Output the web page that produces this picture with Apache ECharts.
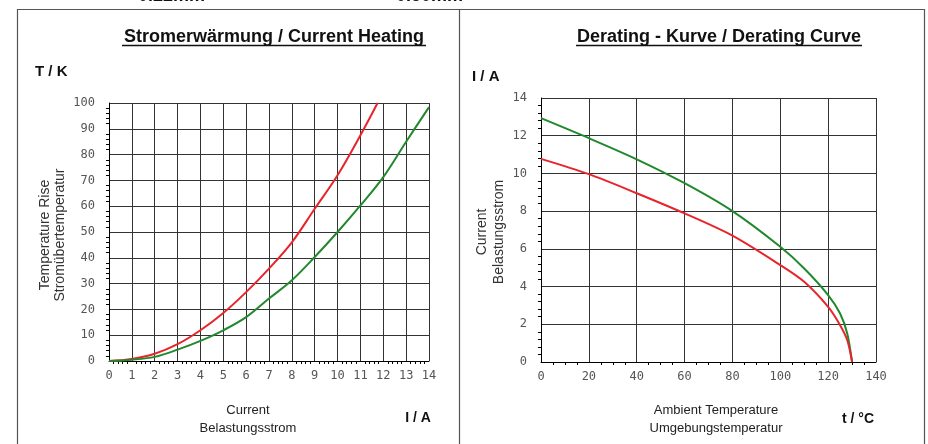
<!DOCTYPE html>
<html>
<head>
<meta charset="utf-8">
<script src="https://cdn.jsdelivr.net/npm/echarts@6/dist/echarts.min.js"></script>
<style>
html,body{margin:0;padding:0;background:#fff;}
#chart{width:928px;height:444px;}
</style>
</head>
<body>
<div id="chart"></div>
<script>
// ---- Data ----
// Left chart: Current Heating (temperature rise vs. current)
var heatCurrentRed = [0, 1, 2, 3, 4, 5, 6, 7, 8, 9, 10, 11, 11.75];
var heatRiseRed    = [0, 0.8, 2.8, 6.5, 11.9, 18.6, 26.7, 35.8, 46, 59, 72, 87.5, 100];
var heatCurrentGreen = [0, 1, 2, 3, 4, 5, 6, 7, 8, 9, 10, 11, 12, 13, 14];
var heatRiseGreen    = [0, 0.5, 1.6, 4.4, 7.8, 11.9, 17, 24.2, 31.3, 40.3, 50, 60.3, 71.3, 85, 98.4];

// Right chart: Derating curve (current vs. ambient temperature)
var derTemp       = [0, 20, 40, 60, 80, 100, 110, 120, 125, 128, 130];
var derCurrentGreen = [12.93, 11.87, 10.75, 9.48, 8.0, 6.11, 4.96, 3.55, 2.57, 1.5, 0];
var derCurrentRed   = [10.77, 9.96, 8.95, 7.88, 6.70, 5.14, 4.25, 2.92, 1.95, 1.15, 0];

// Texts
var titleLeft = 'Stromerwärmung / Current Heating';
var titleRight = 'Derating - Kurve / Derating Curve';
var legendTexts = ['0.22mm', '0.50mm'];

function pairs(xs, ys) { return xs.map(function (x, i) { return [x, ys[i]]; }); }

var chart = echarts.init(document.getElementById('chart'), null, {renderer: 'canvas'});

var gridColor = '#333';
var tickFont = {fontFamily: "'DejaVu Sans Mono', monospace", fontSize: 12, color: '#555'};
var sans = "'Liberation Sans', Arial, sans-serif";

function axisCommon(extra) {
  var base = {
    type: 'value',
    axisLine: {show: true, lineStyle: {color: '#000', width: 1}},
    axisTick: {show: false},
    minorTick: {show: true, length: 3, lineStyle: {color: '#000', width: 1}},
    splitLine: {show: true, lineStyle: {color: gridColor, width: 1}},
    axisLabel: Object.assign({margin: 9}, tickFont)
  };
  return Object.assign(base, extra);
}

var option = {
  backgroundColor: '#fff',
  animation: false,
  grid: [
    {left: 109, top: 103, width: 320, height: 258},
    {left: 541, top: 98, width: 335, height: 264}
  ],
  xAxis: [
    axisCommon({gridIndex: 0, min: 0, max: 14, interval: 1, minorTick: {show: true, splitNumber: 5, length: 3, lineStyle: {color: '#000'}}}),
    axisCommon({gridIndex: 1, min: 0, max: 140, interval: 20, minorTick: {show: true, splitNumber: 4, length: 3, lineStyle: {color: '#000'}}})
  ],
  yAxis: [
    axisCommon({gridIndex: 0, min: 0, max: 100, interval: 10, minorTick: {show: true, splitNumber: 5, length: 3, lineStyle: {color: '#000'}}, axisLabel: Object.assign({margin: 14}, tickFont)}),
    axisCommon({gridIndex: 1, min: 0, max: 14, interval: 2, minorTick: {show: true, splitNumber: 5, length: 3, lineStyle: {color: '#000'}}, axisLabel: Object.assign({margin: 14}, tickFont)})
  ],
  series: [
    {name: '0.22mm', type: 'line', xAxisIndex: 0, yAxisIndex: 0, data: pairs(heatCurrentRed, heatRiseRed),
     smooth: 0.35, showSymbol: false, lineStyle: {color: '#e8242b', width: 2}, z: 5},
    {name: '0.50mm', type: 'line', xAxisIndex: 0, yAxisIndex: 0, data: pairs(heatCurrentGreen, heatRiseGreen),
     smooth: 0.35, showSymbol: false, lineStyle: {color: '#22882e', width: 2}, z: 5},
    {name: '0.50mm', type: 'line', xAxisIndex: 1, yAxisIndex: 1, data: pairs(derTemp, derCurrentGreen),
     smooth: 0.3, showSymbol: false, lineStyle: {color: '#22882e', width: 2}, z: 5},
    {name: '0.22mm', type: 'line', xAxisIndex: 1, yAxisIndex: 1, data: pairs(derTemp, derCurrentRed),
     smooth: 0.3, showSymbol: false, lineStyle: {color: '#e8242b', width: 2}, z: 6}
  ],
  graphic: [
    // frame
    {type: 'rect', shape: {x: 17.5, y: 9.5, width: 907, height: 460}, style: {fill: null, stroke: '#555', lineWidth: 1.2}, silent: true},
    {type: 'line', shape: {x1: 459.5, y1: 9.5, x2: 459.5, y2: 444}, style: {stroke: '#555', lineWidth: 1.2}, silent: true},
    // clipped legend texts at the very top
    {type: 'text', x: 138, y: 5, style: {text: legendTexts[0], font: 'bold 18px ' + sans, fill: '#111', verticalAlign: 'bottom'}},
    {type: 'text', x: 396, y: 5, style: {text: legendTexts[1], font: 'bold 18px ' + sans, fill: '#111', verticalAlign: 'bottom'}},
    // titles
    {type: 'text', x: 274, y: 37, style: {text: titleLeft, font: 'bold 18px ' + sans, fill: '#111', align: 'center', verticalAlign: 'middle'}},
    {type: 'line', shape: {x1: 122, y1: 45.5, x2: 426, y2: 45.5}, style: {stroke: '#111', lineWidth: 1.5}},
    {type: 'text', x: 719, y: 37, style: {text: titleRight, font: 'bold 18px ' + sans, fill: '#111', align: 'center', verticalAlign: 'middle'}},
    {type: 'line', shape: {x1: 576, y1: 45.5, x2: 862, y2: 45.5}, style: {stroke: '#111', lineWidth: 1.5}},
    // unit labels
    {type: 'text', x: 35, y: 72, style: {text: 'T / K', font: 'bold 15px ' + sans, fill: '#111', verticalAlign: 'middle'}},
    {type: 'text', x: 472, y: 77, style: {text: 'I / A', font: 'bold 15px ' + sans, fill: '#111', verticalAlign: 'middle'}},
    {type: 'text', x: 418, y: 418, style: {text: 'I / A', font: 'bold 14px ' + sans, fill: '#111', align: 'center', verticalAlign: 'middle'}},
    {type: 'text', x: 858, y: 419, style: {text: 't / °C', font: 'bold 14px ' + sans, fill: '#111', align: 'center', verticalAlign: 'middle'}},
    // axis titles (bottom)
    {type: 'text', x: 248, y: 419, style: {text: 'Current\nBelastungsstrom', font: '13px ' + sans, lineHeight: 18, fill: '#222', align: 'center', verticalAlign: 'middle'}},
    {type: 'text', x: 716, y: 419, style: {text: 'Ambient Temperature\nUmgebungstemperatur', font: '13px ' + sans, lineHeight: 18, fill: '#222', align: 'center', verticalAlign: 'middle'}},
    // axis titles (rotated)
    {type: 'text', x: 53, y: 235, rotation: Math.PI / 2, style: {text: 'Temperature Rise\nStromübertemperatur', font: '14px ' + sans, lineHeight: 15, fill: '#333', align: 'center', verticalAlign: 'middle'}},
    {type: 'text', x: 491, y: 232, rotation: Math.PI / 2, style: {text: 'Current\nBelastungsstrom', font: '14px ' + sans, lineHeight: 17, fill: '#333', align: 'center', verticalAlign: 'middle'}}
  ]
};
chart.setOption(option);
</script>
</body>
</html>
